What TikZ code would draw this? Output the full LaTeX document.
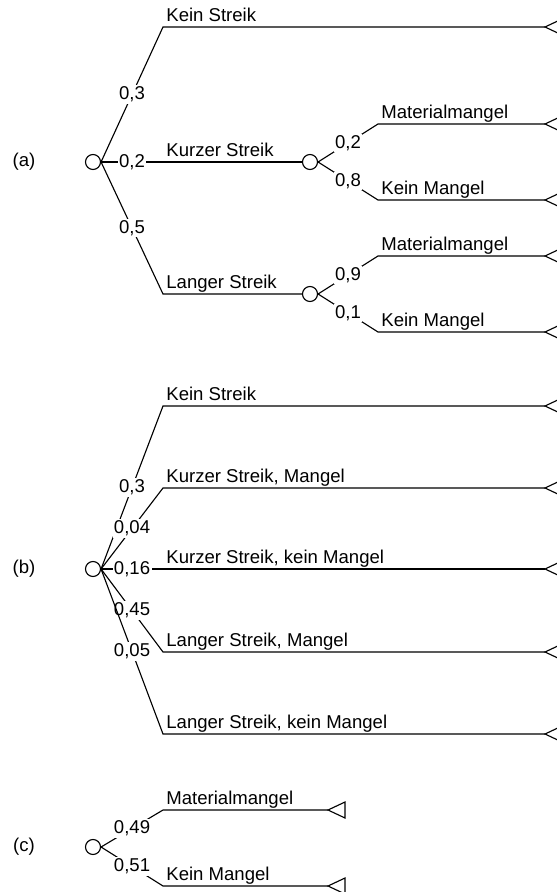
\documentclass[tikz,border=0pt]{standalone}
\usepackage{fontspec}
\setmainfont{Liberation Sans}
\usepackage{tikz}

\tikzset{
	chance/.style={draw, circle, minimum size=0.375cm, inner sep=0pt},
	prob/.style={fill=white, inner sep=1pt},
	branch/.style={anchor=base west, inner sep=0pt, xshift=2pt, yshift=4pt},
}

\begin{document}
\begin{tikzpicture}[x=0.025cm, y=-0.025cm, line width=0.8pt, font=\fontsize{13.2}{16}\selectfont]
	
	\useasboundingbox (0,0) rectangle (557,892);
	\clip (0,0) rectangle (557,892);
	
	% (a) Streik, danach Mangel
	\node (la) at (24,162) {(a)};
	\node[chance] (a0) at (93,162) {};
	\node[chance] (a1) at (310,162) {};
	\node[chance] (a2) at (310,294) {};
	
	\coordinate (ka1) at (163,27);
	\coordinate (ka2) at (163,162);
	\coordinate (ka3) at (163,294);
	\coordinate (ka4) at (378,124);
	\coordinate (ka5) at (378,200);
	\coordinate (ka6) at (378,256);
	\coordinate (ka7) at (378,332);
	\coordinate (ea1) at (545,27);
	\coordinate (ea4) at (545,124);
	\coordinate (ea5) at (545,200);
	\coordinate (ea6) at (545,256);
	\coordinate (ea7) at (545,332);
	
	\draw (a0.east) -- node[prob] {0,3} (ka1) -- (ea1);
	\draw (a0.east) -- node[prob] {0,2} (ka2) -- (a1.west);
	\draw (a0.east) -- node[prob] {0,5} (ka3) -- (a2.west);
	\draw (a1.east) -- node[prob] {0,2} (ka4) -- (ea4);
	\draw (a1.east) -- node[prob] {0,8} (ka5) -- (ea5);
	\draw (a2.east) -- node[prob] {0,9} (ka6) -- (ea6);
	\draw (a2.east) -- node[prob] {0,1} (ka7) -- (ea7);
	
	\node[branch] (ta1) at (ka1) {Kein Streik};
	\node[branch] (ta2) at (ka2) {Kurzer Streik};
	\node[branch] (ta3) at (ka3) {Langer Streik};
	\node[branch] (ta4) at (ka4) {Materialmangel};
	\node[branch] (ta5) at (ka5) {Kein Mangel};
	\node[branch] (ta6) at (ka6) {Materialmangel};
	\node[branch] (ta7) at (ka7) {Kein Mangel};
	
	% (b) zusammengefasst
	\node (lb) at (24,569) {(b)};
	\node[chance] (b0) at (93,569) {};
	
	\coordinate (kb1) at (163,406);
	\coordinate (kb2) at (163,488);
	\coordinate (kb3) at (163,569);
	\coordinate (kb4) at (163,652);
	\coordinate (kb5) at (163,734);
	\coordinate (eb1) at (545,406);
	\coordinate (eb2) at (545,488);
	\coordinate (eb3) at (545,569);
	\coordinate (eb4) at (545,652);
	\coordinate (eb5) at (545,734);
	
	\draw (b0.east) -- node[prob] {0,3} (kb1) -- (eb1);
	\draw (b0.east) -- node[prob] {0,04} (kb2) -- (eb2);
	\draw (b0.east) -- node[prob] {0,16} (kb3) -- (eb3);
	\draw (b0.east) -- node[prob] {0,45} (kb4) -- (eb4);
	\draw (b0.east) -- node[prob] {0,05} (kb5) -- (eb5);
	
	\node[branch] (tb1) at (kb1) {Kein Streik};
	\node[branch] (tb2) at (kb2) {Kurzer Streik, Mangel};
	\node[branch] (tb3) at (kb3) {Kurzer Streik, kein Mangel};
	\node[branch] (tb4) at (kb4) {Langer Streik, Mangel};
	\node[branch] (tb5) at (kb5) {Langer Streik, kein Mangel};
	
	% (c) nur Mangel
	\node (lc) at (24,847) {(c)};
	\node[chance] (c0) at (93,847) {};
	
	\coordinate (kc1) at (163,810);
	\coordinate (kc2) at (163,886);
	\coordinate (ec1) at (328,810);
	\coordinate (ec2) at (328,886);
	
	\draw (c0.east) -- node[prob] {0,49} (kc1) -- (ec1);
	\draw (c0.east) -- node[prob] {0,51} (kc2) -- (ec2);
	
	\node[branch] (tc1) at (kc1) {Materialmangel};
	\node[branch] (tc2) at (kc2) {Kein Mangel};
	
	% Endpunkte
	\foreach \e in {ea1,ea4,ea5,ea6,ea7,eb1,eb2,eb3,eb4,eb5,ec1,ec2}
		\draw (\e) -- ++(17,-8) -- ++(0,16) -- cycle;
	
\end{tikzpicture}
\end{document}
